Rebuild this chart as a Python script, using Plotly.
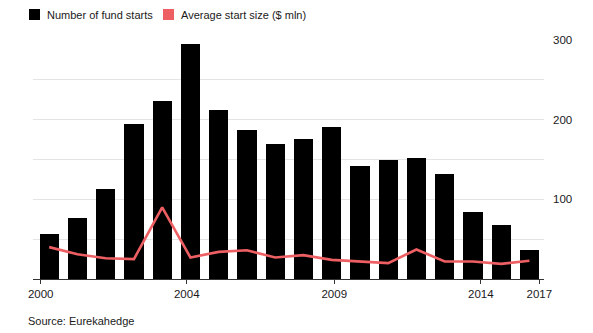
import plotly.graph_objects as go

# Hedge fund launches per year and their average size
years = list(range(2000, 2018))
fund_starts = [56, 76, 113, 195, 224, 295, 212, 187, 169, 176,
               191, 142, 150, 152, 132, 84, 68, 37]
avg_start_size = [40, 31, 26, 25, 90, 27, 34, 36, 27, 30,
                  24, 22, 20, 37, 22, 22, 19, 23]
x_tick_labels = ["2000", "2004", "2009", "2014", "2017"]
y_tick_labels = ["100", "200", "300"]

BAR_NAME = "Number of fund starts"
LINE_NAME = "Average start size ($ mln)"
BAR_COLOR = "#000000"
LINE_COLOR = "#ee5f63"
FONT = "Liberation Sans, Arial, sans-serif"
TEXT_COLOR = "#1a1a1a"

fig = go.Figure()
fig.add_trace(go.Bar(x=years, y=fund_starts, name=BAR_NAME,
                     marker=dict(color=BAR_COLOR, line=dict(width=0)),
                     width=0.68, showlegend=False))
fig.add_trace(go.Scatter(x=years, y=avg_start_size, name=LINE_NAME,
                         mode="lines", line=dict(color=LINE_COLOR, width=2.6),
                         showlegend=False))

# Hand-built legend with square swatches
W, H = 593, 333
ml, mr, mt, mb = 33, 49, 40, 54
pw, ph = W - ml - mr, H - mt - mb


def px_x(p):
    return (p - ml) / pw


def px_y(p):
    return (H - mb - p) / ph


legend_items = [(BAR_NAME, BAR_COLOR, 29), (LINE_NAME, LINE_COLOR, 163)]
for name, color, left in legend_items:
    fig.add_shape(type="rect", xref="paper", yref="paper",
                  x0=px_x(left), x1=px_x(left + 11),
                  y0=px_y(20), y1=px_y(9),
                  fillcolor=color, line=dict(width=0))
    fig.add_annotation(xref="paper", yref="paper", x=px_x(left + 16), y=px_y(14.5),
                       text=name, showarrow=False, xanchor="left", yanchor="middle",
                       font=dict(family=FONT, size=11, color=TEXT_COLOR))

fig.add_annotation(xref="paper", yref="paper", x=px_x(26), y=px_y(321),
                   text="Source: Eurekahedge", showarrow=False,
                   xanchor="left", yanchor="middle",
                   font=dict(family=FONT, size=11, color=TEXT_COLOR))

fig.update_layout(
    width=W, height=H,
    margin=dict(l=ml, r=mr, t=mt, b=mb, pad=0),
    paper_bgcolor="white", plot_bgcolor="white",
    bargap=0,
    font=dict(family=FONT, size=11, color=TEXT_COLOR),
    xaxis=dict(
        range=[1999.427, 2017.515],
        tickvals=[1999.70, 2004.87, 2010.09, 2015.28, 2017.35],
        ticktext=x_tick_labels,
        ticks="outside", ticklen=4, tickcolor="#333333", tickwidth=1,
        showline=True, linecolor="#333333", linewidth=1,
        showgrid=False, zeroline=False,
        tickfont=dict(family=FONT, size=11.5, color=TEXT_COLOR),
        fixedrange=True,
    ),
    yaxis=dict(
        range=[0, 300], side="right",
        tickvals=[100, 200, 300], ticktext=y_tick_labels,
        showgrid=True, gridcolor="#e4e4e4", gridwidth=1,
        minor=dict(tickvals=[50, 150, 250], showgrid=True,
                   gridcolor="#e4e4e4", gridwidth=1),
        zeroline=False, showline=False, ticks="",
        ticklabelstandoff=8,
        tickfont=dict(family=FONT, size=11.5, color=TEXT_COLOR),
        fixedrange=True,
    ),
)

fig.write_html("out.html")
